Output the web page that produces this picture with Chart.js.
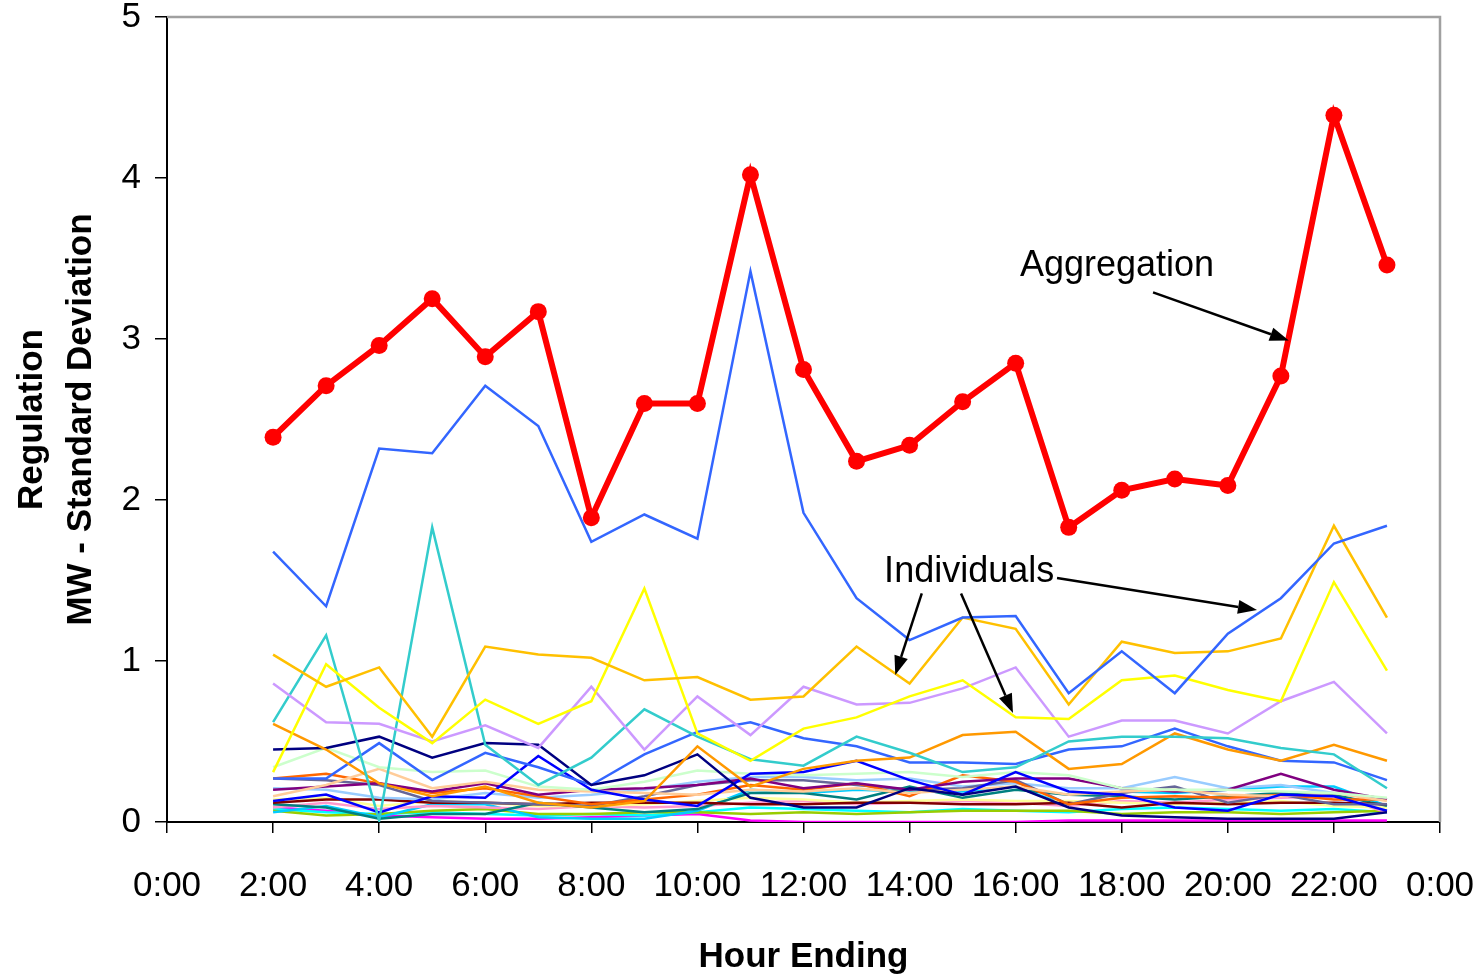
<!DOCTYPE html>
<html><head><meta charset="utf-8">
<script src="https://cdn.jsdelivr.net/npm/chart.js@4/dist/chart.umd.min.js"></script>
<style>html,body{margin:0;padding:0;background:#fff;}canvas{display:block;}</style>
</head><body>
<canvas id="c" width="1480" height="974"></canvas>
<script>
// ---------- data ----------
const hours = [2,3,4,5,6,7,8,9,10,11,12,13,14,15,16,17,18,19,20,21,22,23];
const xTickLabels = ['0:00','2:00','4:00','6:00','8:00','10:00','12:00','14:00','16:00','18:00','20:00','22:00','0:00'];
const yTickLabels = ['0','1','2','3','4','5'];

const aggregation = [2.39,2.71,2.96,3.25,2.89,3.17,1.89,2.60,2.60,4.02,2.81,2.24,2.34,2.61,2.85,1.83,2.06,2.13,2.09,2.77,4.39,3.46];

const indRoyalBlue = [1.68,1.34,2.32,2.29,2.71,2.46,1.74,1.91,1.76,3.42,1.92,1.39,1.13,1.27,1.28,0.80,1.06,0.80,1.17,1.39,1.73,1.84];
const indGold      = [1.04,0.84,0.96,0.53,1.09,1.04,1.02,0.88,0.90,0.76,0.78,1.09,0.86,1.27,1.20,0.73,1.12,1.05,1.06,1.14,1.84,1.27];
const indYellow    = [0.31,0.98,0.71,0.49,0.76,0.61,0.75,1.45,0.55,0.38,0.58,0.65,0.78,0.88,0.65,0.64,0.88,0.91,0.82,0.75,1.49,0.94];
const indLavender  = [0.86,0.62,0.61,0.50,0.60,0.46,0.84,0.45,0.78,0.54,0.84,0.73,0.74,0.83,0.96,0.53,0.63,0.63,0.55,0.75,0.87,0.55];
const indTurquoise = [0.62,1.16,0.01,1.83,0.48,0.23,0.40,0.70,0.53,0.39,0.35,0.53,0.43,0.31,0.34,0.50,0.53,0.53,0.52,0.46,0.42,0.21];
const indOrange    = [0.61,0.45,0.24,0.16,0.22,0.12,0.09,0.13,0.47,0.22,0.33,0.38,0.40,0.54,0.56,0.33,0.36,0.55,0.45,0.38,0.48,0.38];
const indNavy      = [0.45,0.46,0.53,0.40,0.49,0.48,0.23,0.29,0.42,0.15,0.09,0.09,0.21,0.17,0.22,0.09,0.04,0.03,0.02,0.02,0.02,0.06];
const indBlue      = [0.13,0.17,0.06,0.16,0.15,0.41,0.20,0.14,0.10,0.30,0.31,0.38,0.26,0.17,0.31,0.19,0.17,0.09,0.07,0.17,0.16,0.07];
const indMidBlue   = [0.27,0.27,0.49,0.26,0.43,0.34,0.23,0.42,0.56,0.62,0.52,0.47,0.37,0.37,0.36,0.45,0.47,0.58,0.47,0.38,0.37,0.26];
const indPaleGreen = [0.34,0.46,0.34,0.31,0.32,0.22,0.20,0.25,0.32,0.30,0.29,0.30,0.31,0.28,0.31,0.29,0.21,0.20,0.20,0.19,0.18,0.15];
const indPeach     = [0.16,0.23,0.33,0.21,0.25,0.20,0.19,0.18,0.17,0.20,0.19,0.21,0.18,0.20,0.22,0.17,0.19,0.20,0.17,0.16,0.18,0.13];
const indPurple    = [0.20,0.22,0.24,0.19,0.24,0.17,0.20,0.21,0.23,0.27,0.21,0.24,0.20,0.25,0.27,0.27,0.21,0.19,0.20,0.30,0.20,0.14];
const indRedOrange = [0.27,0.30,0.24,0.18,0.21,0.16,0.11,0.14,0.17,0.23,0.20,0.24,0.16,0.29,0.25,0.11,0.15,0.16,0.15,0.17,0.14,0.14];
const indSlate     = [0.27,0.26,0.23,0.13,0.12,0.11,0.10,0.16,0.23,0.26,0.26,0.23,0.20,0.21,0.26,0.11,0.18,0.22,0.12,0.17,0.11,0.11];
const indSkyBlue   = [0.21,0.20,0.15,0.14,0.18,0.15,0.17,0.20,0.25,0.28,0.28,0.26,0.27,0.22,0.24,0.21,0.21,0.28,0.21,0.23,0.18,0.14];
const indDarkRed   = [0.12,0.14,0.14,0.12,0.12,0.11,0.12,0.12,0.12,0.11,0.11,0.12,0.12,0.11,0.11,0.12,0.09,0.12,0.11,0.12,0.12,0.11];
const indTeal      = [0.11,0.09,0.02,0.05,0.05,0.12,0.09,0.06,0.08,0.18,0.18,0.14,0.22,0.15,0.20,0.17,0.16,0.14,0.16,0.18,0.17,0.10];
const indPink      = [0.09,0.12,0.08,0.10,0.09,0.08,0.10,0.09,0.10,0.12,0.13,0.11,0.12,0.13,0.12,0.10,0.13,0.12,0.14,0.15,0.16,0.06];
const indCyan      = [0.06,0.10,0.03,0.11,0.11,0.03,0.02,0.02,0.07,0.20,0.18,0.20,0.19,0.19,0.22,0.10,0.19,0.18,0.20,0.22,0.22,0.10];
const indLime      = [0.07,0.04,0.05,0.07,0.08,0.05,0.05,0.06,0.06,0.05,0.06,0.05,0.06,0.07,0.07,0.07,0.05,0.06,0.06,0.05,0.06,0.07];
const indMagenta   = [0.09,0.07,0.04,0.03,0.02,0.02,0.03,0.04,0.05,0.01,0.00,0.00,0.00,0.00,0.00,0.01,0.01,0.01,0.01,0.01,0.01,0.01];
const indLightYel  = [0.14,0.15,0.10,0.13,0.12,0.10,0.10,0.11,0.13,0.15,0.14,0.12,0.13,0.14,0.13,0.13,0.12,0.11,0.12,0.13,0.10,0.09];
const indAqua      = [0.08,0.06,0.05,0.06,0.05,0.04,0.05,0.04,0.06,0.09,0.08,0.07,0.06,0.08,0.07,0.06,0.08,0.09,0.08,0.07,0.08,0.06];

// annotation texts/arrows in data units (hours, MW)
const annotationTexts = [
  {text:'Aggregation', x:16.08, y:3.39},
  {text:'Individuals', x:13.52, y:1.49}
];
const annotationArrows = [
  [18.59,3.29,21.15,2.99],
  [14.23,1.42,13.73,0.913],
  [14.97,1.42,15.95,0.677],
  [16.78,1.516,20.55,1.317]
];

// ---------- build ----------
const FONT = "'Liberation Sans', Arial, sans-serif";
const toPts = vals => vals.map((v,i)=>({x:hours[i], y:v}));

const individuals = [
  [indMagenta,'#FF00FF'],[indAqua,'#00FFFF'],[indLime,'#99CC00'],[indCyan,'#00CCFF'],
  [indPink,'#FF99CC'],[indLightYel,'#FFFF99'],[indTeal,'#008080'],[indDarkRed,'#800000'],
  [indSkyBlue,'#99CCFF'],[indSlate,'#666699'],[indRedOrange,'#FF6600'],[indPurple,'#800080'],
  [indPeach,'#FFCC99'],[indPaleGreen,'#CCFFCC'],[indBlue,'#0000FF'],[indMidBlue,'#3366FF'],
  [indNavy,'#000080'],[indOrange,'#FF9900'],[indTurquoise,'#33CCCC'],[indLavender,'#CC99FF'],
  [indYellow,'#FFFF00'],[indGold,'#FFC000'],[indRoyalBlue,'#3366FF']
];

const datasets = [{
  label:'Aggregation', data: toPts(aggregation), borderColor:'#FF0000', backgroundColor:'#FF0000',
  borderWidth:6, pointRadius:8.5, pointBorderWidth:0, pointBackgroundColor:'#FF0000', order:0
}];
individuals.slice().reverse().forEach(([vals,col],i)=>{
  datasets.push({label:'Individual '+(i+1), data: toPts(vals), borderColor:col, backgroundColor:col,
    borderWidth:2.5, pointRadius:0, order:1});
});

const zeroPad = s => { s.paddingTop = 0; s.paddingBottom = 0; s.paddingLeft = 0; s.paddingRight = 0; };

const decor = {
  id:'decor',
  afterDraw(chart){
    const {ctx, chartArea:a, scales:{x,y}} = chart;
    ctx.save();
    // top & right frame
    ctx.strokeStyle = '#A0A0A0'; ctx.lineWidth = 2.5;
    ctx.beginPath(); ctx.moveTo(a.left, a.top); ctx.lineTo(a.right, a.top); ctx.lineTo(a.right, a.bottom); ctx.stroke();
    // annotations
    ctx.fillStyle = '#000'; ctx.strokeStyle = '#000';
    ctx.font = '36px ' + FONT; ctx.textAlign = 'left'; ctx.textBaseline = 'alphabetic';
    annotationTexts.forEach(t => ctx.fillText(t.text, x.getPixelForValue(t.x), y.getPixelForValue(t.y)));
    ctx.lineWidth = 2.5;
    annotationArrows.forEach(([x1,y1,x2,y2])=>{
      const px1=x.getPixelForValue(x1), py1=y.getPixelForValue(y1), px2=x.getPixelForValue(x2), py2=y.getPixelForValue(y2);
      const ang = Math.atan2(py2-py1, px2-px1), L=19, W=7;
      const bx = px2 - L*Math.cos(ang), by = py2 - L*Math.sin(ang);
      ctx.beginPath(); ctx.moveTo(px1,py1); ctx.lineTo(bx,by); ctx.stroke();
      ctx.beginPath(); ctx.moveTo(px2,py2);
      ctx.lineTo(bx + W*Math.sin(ang), by - W*Math.cos(ang));
      ctx.lineTo(bx - W*Math.sin(ang), by + W*Math.cos(ang));
      ctx.closePath(); ctx.fill();
    });
    // axis titles
    ctx.font = 'bold 35px ' + FONT; ctx.textAlign = 'center'; ctx.textBaseline = 'alphabetic';
    ctx.fillText('Hour Ending', (a.left + a.right)/2, 967);
    const cy = (a.top + a.bottom)/2;
    [['Regulation',42],['MW - Standard Deviation',91]].forEach(([t,bx])=>{
      ctx.save(); ctx.translate(bx, cy); ctx.rotate(-Math.PI/2); ctx.fillText(t, 0, 0); ctx.restore();
    });
    ctx.restore();
  }
};

new Chart(document.getElementById('c'), {
  type:'line',
  data:{datasets},
  options:{
    responsive:false, animation:false, devicePixelRatio:1,
    layout:{autoPadding:false, padding:{top:17, right:40, left:0, bottom:0}},
    plugins:{legend:{display:false}, tooltip:{enabled:false}},
    elements:{line:{tension:0}},
    scales:{
      x:{type:'linear', min:0, max:24,
        afterFit(s){ s.height = 152; zeroPad(s); },
        ticks:{stepSize:2, autoSkip:false, maxRotation:0, color:'#000', padding:32,
          font:{family:FONT, size:35}, callback:(v)=>xTickLabels[Math.round(v/2)]},
        grid:{drawOnChartArea:false, drawTicks:true, tickLength:11, color:'#000', lineWidth:1.5},
        border:{display:true, color:'#000', width:2}
      },
      y:{type:'linear', min:0, max:5,
        afterFit(s){ s.width = 167; zeroPad(s); },
        ticks:{stepSize:1, color:'#000', padding:14, font:{family:FONT, size:35},
          callback:(v)=>yTickLabels[v]},
        grid:{drawOnChartArea:false, drawTicks:true, tickLength:12, color:'#000', lineWidth:1.5},
        border:{display:true, color:'#000', width:2}
      }
    }
  },
  plugins:[decor]
});
</script>
</body></html>
